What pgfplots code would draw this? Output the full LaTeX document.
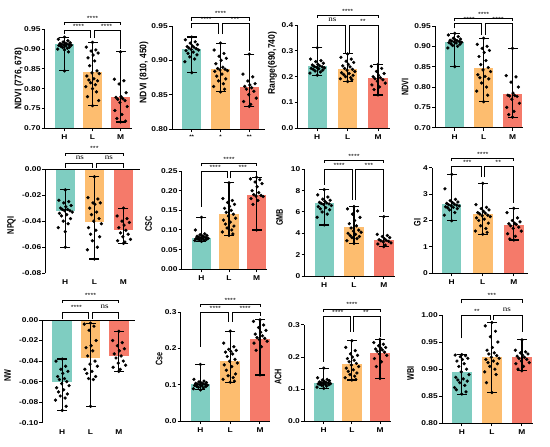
\documentclass[border=0pt]{standalone}
\usepackage{fontspec}
\setmainfont{Liberation Sans}
\newfontfamily\wfont{Liberation Sans}[FakeStretch=1.2]
\newfontfamily\yfont{Liberation Sans}[FakeStretch=0.76]
\newfontfamily\ylfont{Liberation Sans}[FakeStretch=0.9]
\newfontfamily\nsfont{Liberation Serif}[FakeStretch=1.2]
\usepackage{pgfplots}
\pgfplotsset{compat=1.18}
\definecolor{cH}{RGB}{127,205,193}
\definecolor{cL}{RGB}{253,189,111}
\definecolor{cM}{RGB}{245,122,106}

\pgfplotsset{
  panel/.style={
    scale only axis, anchor=south west, clip mode=individual, axis on top,
    axis x line*=bottom, axis y line*=left,
    axis line style={line width=1pt, black},
    tick style={line width=1pt, black},
    tick align=outside, major tick length=3pt,
    scaled y ticks=false,
    xtick={0,1,2}, xticklabels={H,L,M},
    tick label style={font=\wfont\bfseries\fontsize{7}{8}\selectfont},
    yticklabel style={inner sep=1pt},
    ylabel style={font=\yfont\bfseries\fontsize{9.5}{10}\selectfont, anchor=center},
    /pgf/number format/assume math mode=true,
  },
  longlab/.style={ylabel style={font=\ylfont\bfseries\fontsize{9.5}{10}\selectfont}},
  p2/.style={yticklabel style={/pgf/number format/fixed, /pgf/number format/fixed zerofill, /pgf/number format/precision=2}},
  p1/.style={yticklabel style={/pgf/number format/fixed, /pgf/number format/fixed zerofill, /pgf/number format/precision=1}},
  p0/.style={yticklabel style={/pgf/number format/fixed, /pgf/number format/precision=0}},
  neg/.style={x axis line style={draw=none}, xtick style={draw=none}},
}
\newcommand{\bars}[3]{%
  \addplot[ybar, bar width=19.5pt, bar shift=0pt, fill=cH, draw=none] coordinates {(0,#1)};
  \addplot[ybar, bar width=19.5pt, bar shift=0pt, fill=cL, draw=none] coordinates {(1,#2)};
  \addplot[ybar, bar width=19.5pt, bar shift=0pt, fill=cM, draw=none] coordinates {(2,#3)};
}
\newcommand{\err}[3]{\addplot[black, line width=1.1pt, mark=-, mark size=5pt, mark options={solid}] coordinates {(#1,#2) (#1,#3)};}
\newcommand{\pts}[1]{\addplot[only marks, mark=*, mark size=1.45pt, black] coordinates {#1};}
\newcommand{\sig}[7]{%
  \draw[line width=0.8pt] (axis cs:#1,#4) -- (axis cs:#1,#3) -- (axis cs:#2,#3) -- (axis cs:#2,#5);
  \node[anchor=base, inner sep=0pt, font=\wfont\fontsize{6}{6}\selectfont] at (axis cs:#6,#3) [yshift=2pt] {#7};
}
\newcommand{\ns}{\raisebox{1.2pt}{\nsfont\fontsize{7.5}{7.5}\selectfont ns}}

\begin{document}
\begin{tikzpicture}
\useasboundingbox (0,0) rectangle (550pt,-447pt);

% ---------------- P1 NDVI (776, 678)
\begin{axis}[panel, p2, longlab, at={(44.75pt,-128.3pt)}, width=87.25pt, height=99pt,
  xmin=-0.705, xmax=2.41, ymin=0.70, ymax=0.95,
  ytick={0.70,0.75,0.80,0.85,0.90,0.95},
  ylabel={NDVI (776, 678)}, ylabel style={at={(axis description cs:-0.296,0.5)}}]
\bars{0.912}{0.843}{0.778}
\err{0}{0.845}{0.930}\err{1}{0.757}{0.917}\err{2}{0.716}{0.893}
\pts{(0,0.930) (-0.22,0.925) (0.12,0.921) (-0.05,0.918) (0.20,0.916) (0.02,0.915) (-0.16,0.914) (0.08,0.913) (-0.10,0.912) (0.16,0.911) (-0.02,0.910) (0.24,0.910) (-0.20,0.909) (0.05,0.908) (-0.13,0.907) (0.18,0.905) (-0.07,0.904) (0.10,0.902) (-0.24,0.900) (0.00,0.898) (0.14,0.893) (0,0.845)}
\pts{(1,0.917) (0.78,0.905) (1.12,0.898) (0.95,0.895) (1.20,0.890) (1.02,0.885) (0.84,0.878) (1.08,0.870) (0.90,0.858) (1.16,0.845) (0.98,0.840) (1.24,0.838) (0.80,0.832) (1.05,0.825) (0.87,0.822) (1.18,0.820) (0.93,0.815) (1.10,0.810) (0.76,0.805) (1.00,0.800) (1.14,0.792) (0.82,0.780) (1.22,0.770) (1,0.757)}
\pts{(2,0.893) (1.78,0.824) (2.12,0.820) (1.95,0.812) (2.20,0.790) (2.02,0.780) (1.84,0.778) (2.08,0.775) (1.90,0.773) (2.16,0.770) (1.98,0.765) (2.24,0.755) (1.80,0.745) (2.05,0.735) (1.87,0.725) (2.18,0.718) (2,0.716)}
\sig{0}{2}{0.968}{0.961}{0.961}{1}{****}
\sig{0}{0.94}{0.9465}{0.939}{0.928}{0.5}{****}
\sig{1.06}{2}{0.9465}{0.928}{0.899}{1.5}{****}
\end{axis}

% ---------------- P2 NDVI (810, 450)
\begin{axis}[panel, p2, longlab, at={(172pt,-129pt)}, width=93pt, height=103pt,
  xmin=-0.686, xmax=2.545, ymin=0.80, ymax=0.95,
  ytick={0.80,0.85,0.90,0.95},
  xticklabels={{**},{*},{**}},
  xticklabel style={font=\wfont\bfseries\fontsize{5}{5}\selectfont},
  ylabel={NDVI (810, 450)}, ylabel style={at={(axis description cs:-0.301,0.55)}}]
\bars{0.9165}{0.887}{0.861}
\err{0}{0.882}{0.934}\err{1}{0.854}{0.925}\err{2}{0.833}{0.909}
\pts{(0,0.934) (-0.22,0.930) (0.12,0.927) (-0.05,0.925) (0.20,0.923) (0.02,0.921) (-0.16,0.920) (0.08,0.919) (-0.10,0.918) (0.16,0.917) (-0.02,0.916) (0.24,0.915) (-0.20,0.914) (0.05,0.912) (-0.13,0.910) (0.18,0.908) (-0.07,0.905) (0.10,0.902) (-0.24,0.898) (0,0.882)}
\pts{(1,0.925) (0.78,0.915) (1.12,0.910) (0.95,0.906) (1.20,0.903) (1.02,0.900) (0.84,0.895) (1.08,0.890) (0.90,0.888) (1.16,0.887) (0.98,0.886) (1.24,0.885) (0.80,0.884) (1.05,0.880) (0.87,0.877) (1.18,0.873) (0.93,0.870) (1.10,0.866) (0.76,0.862) (1.14,0.858) (1,0.854)}
\pts{(2,0.909) (1.78,0.880) (2.12,0.876) (1.95,0.870) (2.20,0.866) (2.02,0.864) (1.84,0.862) (2.08,0.860) (1.90,0.858) (2.16,0.855) (1.98,0.850) (2.24,0.845) (1.80,0.840) (2.05,0.836) (2,0.833)}
\sig{0}{2}{0.9627}{0.958}{0.958}{1}{****}
\sig{0}{0.94}{0.954}{0.947}{0.938}{0.5}{****}
\sig{1.06}{2}{0.954}{0.938}{0.914}{1.5}{***}
\end{axis}

% ---------------- P3 Range(690,740)
\begin{axis}[panel, p1, longlab, at={(297.5pt,-128.3pt)}, width=92.5pt, height=103.3pt,
  xmin=-0.651, xmax=2.395, ymin=0, ymax=0.4,
  ytick={0,0.1,0.2,0.3,0.4},
  ylabel={Range(690,740)}, ylabel style={at={(axis description cs:-0.270,0.63)}}]
\bars{0.243}{0.228}{0.194}
\err{0}{0.206}{0.312}\err{1}{0.181}{0.288}\err{2}{0.129}{0.248}
\pts{(0,0.312) (-0.22,0.268) (0.12,0.262) (-0.05,0.258) (0.20,0.252) (0.02,0.248) (-0.16,0.245) (0.08,0.242) (-0.10,0.240) (0.16,0.238) (-0.02,0.236) (0.24,0.234) (-0.20,0.232) (0.05,0.230) (-0.13,0.228) (0.18,0.225) (-0.07,0.222) (0.10,0.218) (-0.24,0.214) (0,0.206)}
\pts{(1,0.288) (0.78,0.275) (1.12,0.268) (0.95,0.260) (1.20,0.255) (1.02,0.248) (0.84,0.242) (1.08,0.238) (0.90,0.232) (1.16,0.228) (0.98,0.225) (1.24,0.220) (0.80,0.215) (1.05,0.212) (0.87,0.208) (1.18,0.205) (0.93,0.200) (1.10,0.196) (0.76,0.192) (1.14,0.188) (1,0.181)}
\pts{(2,0.248) (1.78,0.240) (2.12,0.232) (1.95,0.220) (2.20,0.212) (2.02,0.205) (1.84,0.200) (2.08,0.196) (1.90,0.192) (2.16,0.188) (1.98,0.182) (2.24,0.175) (1.80,0.168) (2.05,0.160) (1.87,0.150) (2,0.129)}
\sig{0}{2}{0.4387}{0.427}{0.427}{1}{****}
\sig{0}{0.94}{0.40}{0.316}{0.29}{0.5}{\ns}
\sig{1.06}{2}{0.40}{0.29}{0.252}{1.5}{**}
\end{axis}

% ---------------- P4 NDVI
\begin{axis}[panel, p2, at={(435pt,-127.7pt)}, width=88pt, height=101.7pt,
  xmin=-0.683, xmax=2.363, ymin=0.70, ymax=0.95,
  ytick={0.70,0.75,0.80,0.85,0.90,0.95},
  ylabel={NDVI}, ylabel style={at={(axis description cs:-0.341,0.40)}}]
\bars{0.9115}{0.8475}{0.782}
\err{0}{0.850}{0.932}\err{1}{0.764}{0.920}\err{2}{0.726}{0.895}
\pts{(0,0.932) (-0.22,0.928) (0.12,0.924) (-0.05,0.920) (0.20,0.918) (0.02,0.916) (-0.16,0.915) (0.08,0.914) (-0.10,0.913) (0.16,0.912) (-0.02,0.911) (0.24,0.910) (-0.20,0.909) (0.05,0.908) (-0.13,0.906) (0.18,0.905) (-0.07,0.902) (0.10,0.900) (-0.24,0.896) (0,0.850)}
\pts{(1,0.920) (0.78,0.905) (1.12,0.900) (0.95,0.895) (1.20,0.890) (1.02,0.885) (0.84,0.875) (1.08,0.865) (0.90,0.855) (1.16,0.848) (0.98,0.842) (1.24,0.838) (0.80,0.830) (1.05,0.826) (0.87,0.823) (1.18,0.820) (0.93,0.810) (1.10,0.800) (0.76,0.790) (1.14,0.780) (1,0.764)}
\pts{(2,0.895) (1.78,0.828) (2.12,0.825) (1.95,0.812) (2.20,0.800) (2.02,0.785) (1.84,0.780) (2.08,0.779) (1.90,0.778) (2.16,0.777) (1.98,0.770) (2.24,0.760) (1.80,0.750) (2.05,0.740) (1.87,0.732) (2,0.726)}
\sig{0}{2}{0.969}{0.962}{0.962}{1}{****}
\sig{0}{0.94}{0.9566}{0.944}{0.928}{0.5}{****}
\sig{1.06}{2}{0.9566}{0.928}{0.899}{1.5}{****}
\end{axis}

% ---------------- P5 NPQI
\begin{axis}[panel, p2, neg, at={(45.5pt,-273.3pt)}, width=94.5pt, height=104.3pt,
  xmin=-0.679, xmax=2.567, ymin=-0.08, ymax=0,
  ytick={-0.08,-0.06,-0.04,-0.02,0},
  ylabel={NPQI}, ylabel style={at={(axis description cs:-0.360,0.46)}}]
\bars{-0.032}{-0.041}{-0.047}
\err{0}{-0.060}{-0.016}\err{1}{-0.069}{-0.006}\err{2}{-0.057}{-0.030}
\pts{(0,-0.016) (-0.22,-0.024) (0.12,-0.025) (-0.05,-0.026) (0.20,-0.028) (0.02,-0.029) (-0.16,-0.030) (0.08,-0.031) (-0.10,-0.031) (0.16,-0.032) (-0.02,-0.032) (0.24,-0.033) (-0.20,-0.034) (0.05,-0.035) (-0.13,-0.036) (0.18,-0.038) (-0.07,-0.040) (0.10,-0.042) (-0.24,-0.045) (0.00,-0.048) (0,-0.060)}
\pts{(1,-0.006) (0.78,-0.022) (1.12,-0.023) (0.95,-0.026) (1.20,-0.026) (1.02,-0.027) (0.84,-0.030) (1.08,-0.033) (0.90,-0.035) (1.16,-0.038) (0.98,-0.040) (1.24,-0.042) (0.80,-0.045) (1.05,-0.047) (0.87,-0.050) (1.18,-0.052) (0.93,-0.055) (1.10,-0.060) (0.76,-0.062) (1,-0.069)}
\pts{(2,-0.030) (1.78,-0.036) (2.12,-0.038) (1.95,-0.040) (2.20,-0.041) (2.02,-0.043) (1.84,-0.045) (2.08,-0.047) (1.90,-0.049) (2.16,-0.050) (1.98,-0.052) (2.24,-0.054) (1.80,-0.055) (2.05,-0.056) (2,-0.057)}
\draw[line width=1pt] (rel axis cs:0,1) -- (rel axis cs:1,1);
\sig{0}{2}{0.0123}{0.0100}{0.0100}{1}{***}
\sig{0}{0.94}{0.0046}{0.0008}{0.0008}{0.5}{\ns}
\sig{1.06}{2}{0.0046}{0.0008}{0.0008}{1.5}{\ns}
\end{axis}

% ---------------- P6 CSC
\begin{axis}[panel, p2, at={(181.7pt,-269.3pt)}, width=85.3pt, height=98.3pt,
  xmin=-0.718, xmax=2.38, ymin=0, ymax=0.25,
  ytick={0,0.05,0.10,0.15,0.20,0.25},
  ylabel={CSC}, ylabel style={at={(axis description cs:-0.387,0.46)}}]
\bars{0.0805}{0.1407}{0.189}
\err{0}{0.071}{0.132}\err{1}{0.086}{0.220}\err{2}{0.100}{0.234}
\pts{(0,0.132) (-0.22,0.100) (0.12,0.090) (-0.05,0.088) (0.20,0.086) (0.02,0.085) (-0.16,0.084) (0.08,0.083) (-0.10,0.082) (0.16,0.081) (-0.02,0.080) (0.24,0.079) (-0.20,0.078) (0.05,0.078) (-0.13,0.077) (0.18,0.076) (-0.07,0.075) (0.10,0.074) (-0.24,0.073) (0,0.071)}
\pts{(1,0.220) (0.78,0.180) (1.12,0.175) (0.95,0.170) (1.20,0.165) (1.02,0.160) (0.84,0.155) (1.08,0.150) (0.90,0.145) (1.16,0.140) (0.98,0.135) (1.24,0.130) (0.80,0.125) (1.05,0.120) (0.87,0.115) (1.18,0.110) (0.93,0.105) (1.10,0.100) (0.76,0.095) (1.14,0.090) (1,0.086)}
\pts{(2,0.234) (1.78,0.230) (2.12,0.228) (1.95,0.222) (2.20,0.218) (2.02,0.210) (1.84,0.200) (2.08,0.195) (1.90,0.190) (2.16,0.188) (1.98,0.186) (2.24,0.185) (1.80,0.180) (2.05,0.175) (1.87,0.165) (2,0.100)}
\sig{0}{2}{0.2696}{0.262}{0.262}{1}{****}
\sig{0}{0.94}{0.25}{0.159}{0.231}{0.5}{****}
\sig{1.06}{2}{0.25}{0.231}{0.2355}{1.5}{***}
\end{axis}

% ---------------- P7 GMB
\begin{axis}[panel, p0, at={(304.5pt,-276pt)}, width=90.5pt, height=106.7pt,
  xmin=-0.664, xmax=2.376, ymin=0, ymax=10,
  ytick={0,2,4,6,8,10},
  ylabel={GMB}, ylabel style={at={(axis description cs:-0.276,0.55)}}]
\bars{6.81}{4.6}{3.37}
\err{0}{4.78}{8.1}\err{1}{3.06}{6.5}\err{2}{2.75}{5.56}
\pts{(0,8.1) (-0.22,7.6) (0.12,7.4) (-0.05,7.2) (0.20,7.1) (0.02,7.0) (-0.16,6.9) (0.08,6.85) (-0.10,6.8) (0.16,6.75) (-0.02,6.7) (0.24,6.6) (-0.20,6.5) (0.05,6.4) (-0.13,6.3) (0.18,6.2) (-0.07,6.0) (0.10,5.8) (-0.24,5.5) (0,4.78)}
\pts{(1,6.5) (0.78,6.3) (1.12,6.1) (0.95,5.8) (1.20,5.5) (1.02,5.2) (0.84,4.9) (1.08,4.7) (0.90,4.5) (1.16,4.3) (0.98,4.2) (1.24,4.1) (0.80,4.0) (1.05,3.9) (0.87,3.8) (1.18,3.7) (0.93,3.6) (1.10,3.5) (0.76,3.3) (1,3.06)}
\pts{(2,5.56) (1.78,3.9) (2.12,3.8) (1.95,3.7) (2.20,3.6) (2.02,3.5) (1.84,3.4) (2.08,3.35) (1.90,3.3) (2.16,3.25) (1.98,3.2) (2.24,3.1) (1.80,3.0) (2.05,2.9) (2,2.75)}
\sig{0}{2}{10.87}{10.6}{10.6}{1}{****}
\sig{0}{0.94}{9.95}{8.53}{7.12}{0.5}{****}
\sig{1.06}{2}{9.95}{7.12}{6.03}{1.5}{***}
\end{axis}

% ---------------- P8 GI
\begin{axis}[panel, p0, at={(432pt,-273.3pt)}, width=96pt, height=105.6pt,
  xmin=-0.636, xmax=2.457, ymin=0, ymax=4,
  ytick={0,1,2,3,4},
  ylabel={GI}, ylabel style={at={(axis description cs:-0.153,0.48)}}]
\bars{2.61}{2.23}{1.83}
\err{0}{1.99}{3.75}\err{1}{1.48}{3.41}\err{2}{1.26}{2.46}
\pts{(0,3.75) (-0.22,3.2) (0.12,2.8) (-0.05,2.75) (0.20,2.7) (0.02,2.68) (-0.16,2.65) (0.08,2.62) (-0.10,2.6) (0.16,2.58) (-0.02,2.56) (0.24,2.55) (-0.20,2.52) (0.05,2.5) (-0.13,2.48) (0.18,2.45) (-0.07,2.4) (0.10,2.3) (-0.24,2.2) (0,1.99)}
\pts{(1,3.41) (0.78,2.6) (1.12,2.5) (0.95,2.45) (1.20,2.4) (1.02,2.35) (0.84,2.3) (1.08,2.28) (0.90,2.25) (1.16,2.2) (0.98,2.18) (1.24,2.15) (0.80,2.1) (1.05,2.05) (0.87,2.0) (1.18,1.9) (0.93,1.8) (1.10,1.7) (0.76,1.6) (1.14,1.55) (1,1.48)}
\pts{(2,2.46) (1.78,2.3) (2.12,2.1) (1.95,2.0) (2.20,1.95) (2.02,1.9) (1.84,1.88) (2.08,1.85) (1.90,1.8) (2.16,1.75) (1.98,1.7) (2.24,1.6) (1.80,1.5) (2.05,1.4) (1.87,1.3) (2,1.26)}
\sig{0}{2}{4.356}{4.25}{4.25}{1}{****}
\sig{0}{0.94}{4.04}{3.79}{3.64}{0.5}{***}
\sig{1.06}{2}{4.04}{3.64}{2.65}{1.5}{**}
\end{axis}

% ---------------- P9 NW
\begin{axis}[panel, p2, neg, at={(42.5pt,-422.7pt)}, width=92.5pt, height=102.7pt,
  xmin=-0.698, xmax=2.572, ymin=-0.10, ymax=0,
  ytick={-0.10,-0.08,-0.06,-0.04,-0.02,0},
  ylabel={NW}, ylabel style={at={(axis description cs:-0.378,0.46)}}]
\bars{-0.0607}{-0.0373}{-0.035}
\err{0}{-0.088}{-0.038}\err{1}{-0.084}{-0.003}\err{2}{-0.050}{-0.011}
\pts{(0,-0.038) (-0.22,-0.040) (0.12,-0.045) (-0.05,-0.048) (0.20,-0.050) (0.02,-0.052) (-0.16,-0.055) (0.08,-0.057) (-0.10,-0.058) (0.16,-0.060) (-0.02,-0.062) (0.24,-0.064) (-0.20,-0.066) (0.05,-0.068) (-0.13,-0.070) (0.18,-0.072) (-0.07,-0.074) (0.10,-0.076) (-0.24,-0.078) (0.14,-0.084) (0,-0.088)}
\pts{(1,-0.003) (0.78,-0.004) (1.12,-0.006) (0.95,-0.010) (1.20,-0.020) (1.02,-0.025) (0.84,-0.027) (1.08,-0.030) (0.90,-0.035) (1.16,-0.040) (0.98,-0.043) (1.24,-0.045) (0.80,-0.048) (1.05,-0.050) (0.87,-0.052) (1.18,-0.055) (0.93,-0.057) (1.10,-0.058) (1,-0.084)}
\pts{(2,-0.011) (1.78,-0.020) (2.12,-0.022) (1.95,-0.025) (2.20,-0.028) (2.02,-0.030) (1.84,-0.033) (2.08,-0.035) (1.90,-0.037) (2.16,-0.040) (1.98,-0.042) (2.24,-0.044) (1.80,-0.046) (2.05,-0.048) (2,-0.050)}
\draw[line width=1pt] (rel axis cs:0,1) -- (rel axis cs:1,1);
\sig{0}{2}{0.0195}{0.0165}{0.0165}{1}{****}
\sig{0}{0.94}{0.0078}{0.001}{0.001}{0.5}{****}
\sig{1.06}{2}{0.0078}{0.001}{0.001}{1.5}{\ns}
\end{axis}

% ---------------- P10 Cse
\begin{axis}[panel, p1, at={(180.7pt,-421pt)}, width=89.3pt, height=108.7pt,
  xmin=-0.664, xmax=2.336, ymin=0, ymax=0.3,
  ytick={0,0.1,0.2,0.3},
  ylabel={Cse}, ylabel style={at={(axis description cs:-0.243,0.57)}}]
\bars{0.101}{0.1665}{0.226}
\err{0}{0.086}{0.156}\err{1}{0.107}{0.248}\err{2}{0.127}{0.279}
\pts{(0,0.156) (-0.22,0.115) (0.12,0.110) (-0.05,0.108) (0.20,0.106) (0.02,0.105) (-0.16,0.104) (0.08,0.103) (-0.10,0.102) (0.16,0.101) (-0.02,0.100) (0.24,0.099) (-0.20,0.098) (0.05,0.097) (-0.13,0.096) (0.18,0.095) (-0.07,0.093) (0.10,0.091) (-0.24,0.089) (0,0.086)}
\pts{(1,0.248) (0.78,0.215) (1.12,0.205) (0.95,0.198) (1.20,0.195) (1.02,0.192) (0.84,0.190) (1.08,0.185) (0.90,0.178) (1.16,0.170) (0.98,0.165) (1.24,0.160) (0.80,0.155) (1.05,0.150) (0.87,0.140) (1.18,0.130) (0.93,0.125) (1.10,0.120) (0.76,0.115) (1.14,0.110) (1,0.107)}
\pts{(2,0.279) (1.78,0.275) (2.12,0.265) (1.95,0.258) (2.20,0.250) (2.02,0.245) (1.84,0.240) (2.08,0.235) (1.90,0.230) (2.16,0.228) (1.98,0.225) (2.24,0.220) (1.80,0.215) (2.05,0.205) (1.87,0.195) (2,0.127)}
\sig{0}{2}{0.322}{0.314}{0.314}{1}{****}
\sig{0}{0.94}{0.30}{0.205}{0.274}{0.5}{****}
\sig{1.06}{2}{0.30}{0.274}{0.29}{1.5}{****}
\end{axis}

% ---------------- P11 ACH
\begin{axis}[panel, p1, at={(304pt,-421pt)}, width=87pt, height=96pt,
  xmin=-0.703, xmax=2.39, ymin=0, ymax=0.3,
  ytick={0,0.1,0.2,0.3},
  ylabel={ACH}, ylabel style={at={(axis description cs:-0.299,0.46)}}]
\bars{0.118}{0.177}{0.211}
\err{0}{0.102}{0.165}\err{1}{0.128}{0.251}\err{2}{0.133}{0.255}
\pts{(0,0.165) (-0.22,0.135) (0.12,0.130) (-0.05,0.128) (0.20,0.126) (0.02,0.124) (-0.16,0.122) (0.08,0.121) (-0.10,0.120) (0.16,0.119) (-0.02,0.118) (0.24,0.117) (-0.20,0.116) (0.05,0.115) (-0.13,0.114) (0.18,0.113) (-0.07,0.111) (0.10,0.109) (-0.24,0.106) (0,0.102)}
\pts{(1,0.251) (0.78,0.230) (1.12,0.220) (0.95,0.210) (1.20,0.205) (1.02,0.200) (0.84,0.195) (1.08,0.190) (0.90,0.185) (1.16,0.180) (0.98,0.175) (1.24,0.170) (0.80,0.165) (1.05,0.160) (0.87,0.155) (1.18,0.150) (0.93,0.145) (1.10,0.140) (0.76,0.135) (1.14,0.130) (1,0.128)}
\pts{(2,0.255) (1.78,0.245) (2.12,0.240) (1.95,0.235) (2.20,0.230) (2.02,0.228) (1.84,0.225) (2.08,0.222) (1.90,0.218) (2.16,0.215) (1.98,0.210) (2.24,0.205) (1.80,0.195) (2.05,0.185) (1.87,0.170) (2,0.133)}
\sig{0}{2}{0.35}{0.34}{0.34}{1}{****}
\sig{0}{0.94}{0.326}{0.185}{0.279}{0.5}{****}
\sig{1.06}{2}{0.326}{0.279}{0.263}{1.5}{**}
\end{axis}

% ---------------- P12 WBI
\begin{axis}[panel, p2, at={(442pt,-423.3pt)}, width=91pt, height=108.3pt,
  xmin=-0.658, xmax=2.367, ymin=0.80, ymax=1.00,
  ytick={0.80,0.85,0.90,0.95,1.00},
  ylabel={WBI}, ylabel style={at={(axis description cs:-0.344,0.46)}}]
\bars{0.8954}{0.922}{0.923}
\err{0}{0.854}{0.927}\err{1}{0.857}{0.986}\err{2}{0.897}{0.954}
\pts{(0,0.927) (-0.22,0.926) (0.12,0.925) (-0.05,0.923) (0.20,0.920) (0.02,0.918) (-0.16,0.915) (0.08,0.910) (-0.10,0.905) (0.16,0.900) (-0.02,0.895) (0.24,0.890) (-0.20,0.885) (0.05,0.882) (-0.13,0.880) (0.18,0.878) (-0.07,0.875) (0.10,0.870) (-0.24,0.866) (-0.18,0.862) (0.14,0.858) (0,0.854)}
\pts{(1,0.986) (0.78,0.980) (1.12,0.970) (0.95,0.960) (1.20,0.950) (1.02,0.940) (0.84,0.935) (1.08,0.930) (0.90,0.928) (1.16,0.925) (0.98,0.922) (1.24,0.920) (0.80,0.918) (1.05,0.915) (0.87,0.912) (1.18,0.910) (0.93,0.905) (1.10,0.900) (0.76,0.895) (1.14,0.890) (0.82,0.875) (1,0.857)}
\pts{(2,0.954) (1.78,0.935) (2.12,0.932) (1.95,0.930) (2.20,0.928) (2.02,0.926) (1.84,0.924) (2.08,0.922) (1.90,0.920) (2.16,0.918) (1.98,0.915) (2.24,0.912) (1.80,0.910) (2.05,0.905) (1.87,0.900) (2,0.897)}
\sig{0}{2}{1.0295}{1.0216}{1.0216}{1}{***}
\sig{0}{0.94}{1.00}{0.957}{0.991}{0.5}{**}
\sig{1.06}{2}{1.00}{0.991}{0.969}{1.5}{\ns}
\end{axis}

\end{tikzpicture}
\end{document}
